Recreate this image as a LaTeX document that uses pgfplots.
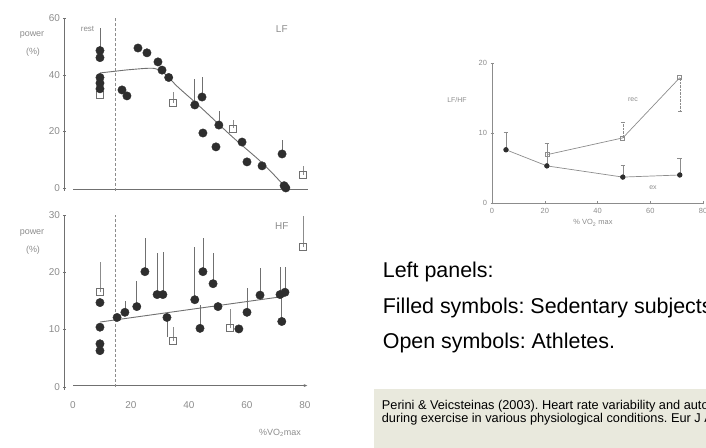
\documentclass[border=0pt]{standalone}
\usepackage{pgfplots}
\pgfplotsset{compat=1.18}
\usepackage{pgfplotstable}
\usetikzlibrary{arrows.meta}
\usepackage{fontspec}
\setmainfont{Liberation Sans}
\frenchspacing
\definecolor{dotc}{HTML}{2E2E2E}
\definecolor{linec}{HTML}{707070}
\definecolor{labc}{HTML}{8C8C8C}
\definecolor{boxc}{HTML}{E9E9DD}

% LF panel data
\pgfplotstableread{
x y e
9.3 48.5 8
9.3 46 0
9.3 39 0
9.3 37 0
9.3 35 0
16.9 34.6 0
18.6 32.5 0
22.4 49.4 1.5
25.5 47.7 0
29.3 44.5 1.5
30.7 41.6 0
33 39 0
42 29.3 9
44.5 32.1 7
50.3 22.2 5
44.8 19.4 0
49.3 14.5 0
58.3 16.2 0
60 9.2 0
65.2 7.8 0
72.1 12 5
72.8 0.8 0
73.4 0 0
}\lffilled
\pgfplotstableread{
x y e
9.3 33 0
34.5 30 4
55.2 21 3
79.3 4.6 3
}\lfopen
\pgfplotstableread{
x y
9.3 40.6
14.5 41.2
20 41.8
28 42.2
32 40
36 35.8
44 28.5
55 18
64 10
68.5 5.5
73.5 0
}\lfcurve

% HF panel data
\pgfplotstableread{
x y e
9.3 14.7 0
9.3 10.4 0
9.3 7.5 0
9.3 6.3 0
15.2 12.1 0
17.9 13 2
22 14 4.4
24.8 20.1 5.9
29 16.1 7.3
31 16.1 7.5
32.4 12.1 -3.4
42 15.2 9.2
43.8 10.2 4
44.8 20.1 5.9
48.3 18 5.4
50 14 0
57.2 10.1 0
60 13 4.3
64.5 16 4.8
71.4 16.1 4.9
73.1 16.5 4.5
72 11.4 4.6
}\hffilled
\pgfplotstableread{
x y e
9.3 16.5 5.3
34.5 8 2.5
54.1 10.2 3.3
79.3 24.4 5.5
}\hfopen
\pgfplotstableread{
x y
9.3 11.3
73 15.8
}\hfline

% LF/HF panel data
\pgfplotstableread{
x y e
5.3 7.6 2.5
20.8 5.3 3.3
49.6 3.7 1.7
71.2 4.0 2.4
}\ratioex
\pgfplotstableread{
x y e
20.8 6.9 1.7
49.6 9.3 2.3
71.2 17.9 -4.8
}\ratiorec

\pgfplotsset{
  scanpanel/.style={
    scale only axis, anchor=south west, clip=false,
    /pgf/number format/assume math mode=true,
    axis y line=left,
    y axis line style={-, linec, line width=0.8pt},
    tick align=center, major tick length=3bp,
    tick style={linec},
    ticklabel style={font=\fontsize{10}{12}\selectfont, text=labc},
  },
  filleddots/.style={only marks, mark=*, mark size=4.2bp,
    mark options={draw=dotc, fill=dotc},
    error bars/.cd, y dir=plus, y explicit, error mark=none,
    error bar style={linec, line width=0.6pt}},
  opensq/.style={only marks, mark=square, mark size=3.5bp,
    mark options={draw=linec, fill=white, line width=0.8pt},
    error bars/.cd, y dir=plus, y explicit, error mark=none,
    error bar style={labc, line width=0.6pt}},
}

\begin{document}
\begin{tikzpicture}[x=1bp,y=1bp]
\useasboundingbox (0,0) rectangle (706,448);
\begin{scope}
\clip (0,0) rectangle (706,448);

% ---------- LF panel ----------
\begin{axis}[scanpanel, at={(64.88bp,257.2bp)}, width=243bp, height=172.8bp,
  xmin=-2.8, xmax=81, ymin=-1, ymax=60,
  axis x line=none, ytick={0,20,40,60}]
  \draw[linec, line width=0.8pt] (axis cs:0,-0.6) -- (axis cs:81,-0.6);
  \draw[labc, densely dashed, line width=0.7pt] (axis cs:14.5,-1) -- (axis cs:14.5,60);
  \addplot[smooth, linec, line width=0.9pt] table[x=x,y=y] {\lfcurve};
  \addplot[opensq] table[x=x,y=y,y error=e] {\lfopen};
  \addplot[filleddots] table[x=x,y=y,y error=e] {\lffilled};
  \node[text=labc, font=\fontsize{10}{12}\selectfont] at (axis cs:72,56) {LF};
  \node[text=labc, font=\fontsize{8}{10}\selectfont] at (axis cs:5,56) {rest};
\end{axis}
\node[text=labc, font=\fontsize{9}{11}\selectfont] at (32,413) {power};
\node[text=labc, font=\fontsize{9}{11}\selectfont] at (33,396) {(\%)};

% ---------- HF panel ----------
\begin{axis}[scanpanel, at={(64.88bp,58.4bp)}, width=243bp, height=174.6bp,
  xmin=-2.8, xmax=81, ymin=-0.5, ymax=30,
  axis x line=bottom, x axis line style={draw=none},
  xtick={0,20,40,60,80}, xtick style={draw=none},
  xticklabel style={yshift=-7bp},
  ytick={0,10,20,30}]
  \draw[linec, line width=0.8pt, -{Latex[length=4bp,width=3bp,open]}] (axis cs:0,0.2) -- (axis cs:81,0.2);
  \draw[labc, densely dashed, line width=0.7pt] (axis cs:14.5,0) -- (axis cs:14.5,30);
  \addplot[linec, line width=0.9pt] table[x=x,y=y] {\hfline};
  \addplot[opensq] table[x=x,y=y,y error=e] {\hfopen};
  \addplot[filleddots] table[x=x,y=y,y error=e] {\hffilled};
  \node[text=labc, font=\fontsize{10}{12}\selectfont] at (axis cs:72,28) {HF};
\end{axis}
\node[text=labc, font=\fontsize{9}{11}\selectfont] at (32,215) {power};
\node[text=labc, font=\fontsize{9}{11}\selectfont] at (33,198) {(\%)};
\node[text=labc, font=\fontsize{9}{11}\selectfont] at (280,15) {\%VO\textsubscript{2}max};

% ---------- LF/HF panel ----------
\begin{axis}[scale only axis, anchor=south west, clip=false,
  at={(492bp,245bp)}, width=211bp, height=140bp,
  xmin=0, xmax=80, ymin=0, ymax=20,
  axis lines=left, axis line style={-, labc, line width=0.7pt},
  /pgf/number format/assume math mode=true,
  xtick={0,20,40,60,80}, ytick={0,10,20},
  tick align=center, major tick length=3bp, tick style={labc},
  ticklabel style={font=\fontsize{7.5}{9}\selectfont, text=labc}]
  \addplot[labc, line width=0.7pt, mark=*, mark size=2.3bp,
    mark options={draw=dotc, fill=dotc},
    error bars/.cd, y dir=plus, y explicit, error mark=-, error bar style={labc}]
    table[x=x,y=y,y error=e] {\ratioex};
  \addplot[labc, line width=0.7pt, mark=square, mark size=2bp,
    mark options={draw=labc, fill=white},
    error bars/.cd, y dir=plus, y explicit, error mark=-, error bar style={labc, densely dotted}]
    table[x=x,y=y,y error=e] {\ratiorec};
\end{axis}
\node[text=labc, font=\fontsize{7}{9}\selectfont] at (457,348) {LF/HF};
\node[text=labc, font=\fontsize{7}{9}\selectfont] at (633,348) {rec};
\node[text=labc, font=\fontsize{7}{9}\selectfont] at (653,260) {ex};
\node[text=labc, font=\fontsize{7.5}{9}\selectfont] at (593,225) {\% VO\textsubscript{2} max};

% ---------- text ----------
\node[anchor=base west, inner sep=0pt, font=\fontsize{21.5}{25}\selectfont] at (382.7,170) {Left panels:};
\node[anchor=base west, inner sep=0pt, font=\fontsize{21.5}{25}\selectfont] at (382.7,134) {Filled symbols: Sedentary subjects};
\node[anchor=base west, inner sep=0pt, font=\fontsize{21.5}{25}\selectfont] at (382.7,99) {Open symbols: Athletes.};

\fill[boxc] (374,0) rectangle (706,59);
\node[anchor=base west, inner sep=0pt, font=\fontsize{12.8}{14}\selectfont] at (381.7,38) {Perini \& Veicsteinas (2003). Heart rate variability and autonomic activity at rest and};
\node[anchor=base west, inner sep=0pt, font=\fontsize{12.8}{14}\selectfont] at (381.7,25) {during exercise in various physiological conditions. Eur J Appl Physiol};
\end{scope}
\end{tikzpicture}
\end{document}
